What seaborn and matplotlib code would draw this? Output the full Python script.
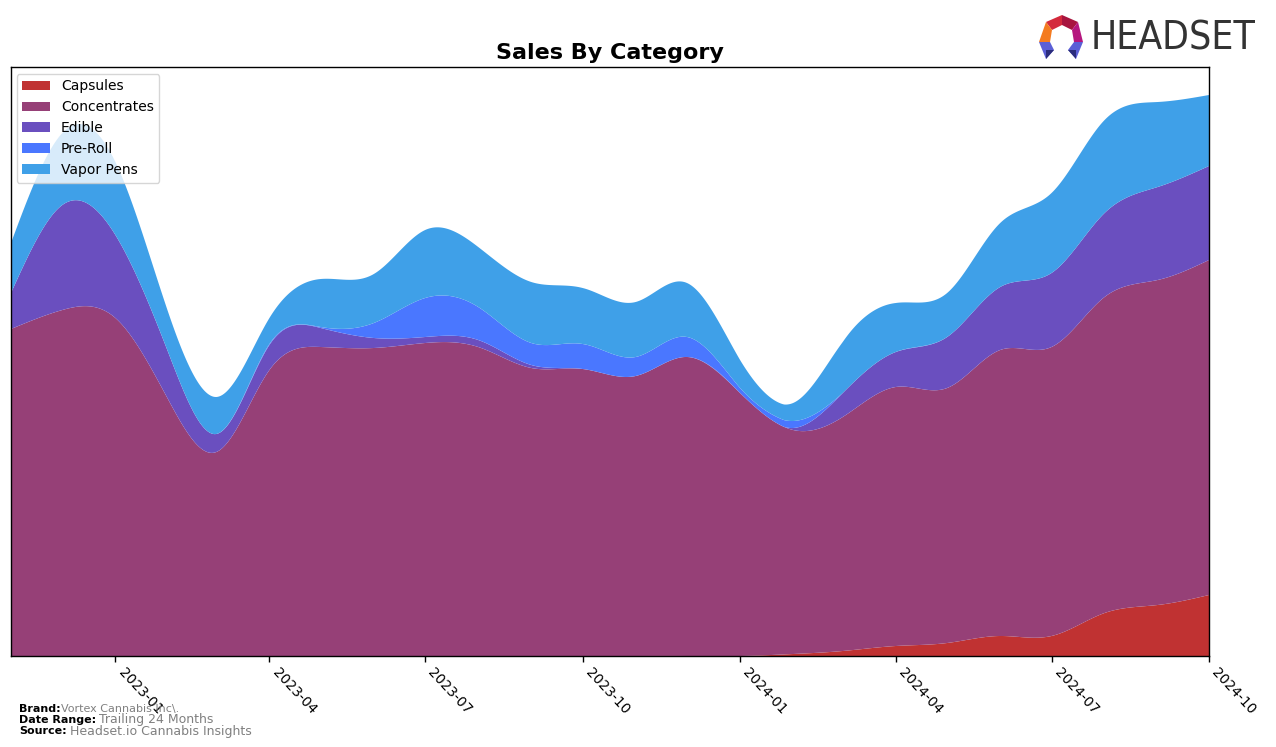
import numpy as np
import pandas as pd
import matplotlib
matplotlib.use("Agg")
import matplotlib.pyplot as plt
import matplotlib.dates as mdates
from matplotlib.patches import Polygon, Patch
import seaborn as sns

# ---- data (monthly) ----
months = pd.date_range("2022-11-01", "2024-10-01", freq="MS")
categories = ["Capsules", "Concentrates", "Edible", "Pre-Roll", "Vapor Pens"]
capsules = [0, 0, 0, 0, 0, 0, 0, 0, 0, 0, 0, 0, 0, 0, 0, 2, 5, 10, 13, 20, 20, 43, 51, 61]
concentrates = [327, 346, 338, 256, 204, 286, 309, 308, 313, 309, 288, 287, 280, 299, 263, 224,
                234, 259, 255, 286, 289, 316, 325, 335]
edible = [36, 105, 83, 47, 18, 25, 19, 10, 6, 7, 3, 0, 0, 0, 0, 2, 24, 35, 51, 63, 74, 84, 93, 94]
pre_roll = [0, 0, 0, 0, 0, 1, 1, 15, 39, 33, 22, 25, 19, 20, 5, 7, 0, 0, 0, 0, 0, 0, 0, 0]
vapor_pens = [50, 72, 73, 40, 37, 26, 48, 49, 68, 60, 61, 56, 55, 54, 28, 18, 51, 49, 44, 64, 80,
              93, 85, 71]
colors = ["#c03232", "#964077", "#6a4fbf", "#4a77ff", "#3fa0e8"]
tick_labels = ["2023-01", "2023-04", "2023-07", "2023-10", "2024-01", "2024-04", "2024-07", "2024-10"]


def natural_spline(x, y, xs):
    x = np.asarray(x, float)
    y = np.asarray(y, float)
    n = len(x)
    h = np.diff(x)
    A = np.zeros((n, n))
    r = np.zeros(n)
    A[0, 0] = 1
    A[-1, -1] = 1
    for i in range(1, n - 1):
        A[i, i - 1] = h[i - 1]
        A[i, i] = 2 * (h[i - 1] + h[i])
        A[i, i + 1] = h[i]
        r[i] = 6 * ((y[i + 1] - y[i]) / h[i] - (y[i] - y[i - 1]) / h[i - 1])
    M = np.linalg.solve(A, r)
    idx = np.clip(np.searchsorted(x, xs) - 1, 0, n - 2)
    x0, x1 = x[idx], x[idx + 1]
    hh = x1 - x0
    t0 = x1 - xs
    t1 = xs - x0
    out = (M[idx] * t0 ** 3 / (6 * hh) + M[idx + 1] * t1 ** 3 / (6 * hh)
           + (y[idx] / hh - M[idx] * hh / 6) * t0 + (y[idx + 1] / hh - M[idx + 1] * hh / 6) * t1)
    return out


sns.set_theme(style="white")
plt.rcParams["font.family"] = ["DejaVu Sans"]
plt.rcParams["text.color"] = "black"
plt.rcParams["axes.labelcolor"] = "black"
plt.rcParams["xtick.color"] = "black"
plt.rcParams["axes.titlecolor"] = "black"

fig = plt.figure(figsize=(12.76, 7.47), dpi=100)
ax = fig.add_axes([11 / 1276, 1 - 656 / 747, (1209 - 11) / 1276, (656 - 67) / 747])

xnum = mdates.date2num(months)
xs = np.linspace(xnum[0], xnum[-1], 800)
series = [capsules, concentrates, edible, pre_roll, vapor_pens]
smooth = [np.clip(natural_spline(xnum, s, xs), 0, None) for s in series]

ax.stackplot(mdates.num2date(xs), *smooth, colors=colors, labels=categories, alpha=1.0,
             linewidth=0.6, edgecolor="none")

ax.set_xlim(months[0], months[-1])
ax.set_ylim(0, 589)
ax.set_yticks([])
tick_dates = pd.to_datetime(tick_labels)
ax.set_xticks(tick_dates)
ax.set_xticklabels(tick_labels, rotation=-47, ha="left", va="top",
                   fontsize=10, color="black")
ax.tick_params(axis="x", direction="out", length=4, width=1, color="black", bottom=True, pad=3)
for sp in ax.spines.values():
    sp.set_color("black")
    sp.set_linewidth(1)

ax.set_title("Sales By Category", fontsize=16, fontweight="bold", pad=6, color="black")

handles = [Patch(facecolor=c, edgecolor="none") for c in colors]
leg = ax.legend(handles, categories, loc="upper left", fontsize=10, frameon=True, fancybox=True,
                borderpad=0.4, labelspacing=0.5, handlelength=2.0, borderaxespad=0.4,
                bbox_to_anchor=(0.0, 0.998))
leg.get_frame().set_edgecolor("#cccccc")
for t in leg.get_texts():
    t.set_color("black")

# footer text
fy = [1 - 709 / 747, 1 - 720 / 747, 1 - 731 / 747]
fig.text(19 / 1276, fy[0], "Brand:", fontsize=8, fontweight="bold", va="center")
fig.text(61 / 1276, fy[0], "Vortex Cannabis Inc\\.", fontsize=8, color="#808080", va="center")
fig.text(19 / 1276, fy[1], "Date Range:", fontsize=8, fontweight="bold", va="center")
fig.text(99 / 1276, fy[1], "Trailing 24 Months", fontsize=9, color="#808080", va="center")
fig.text(19 / 1276, fy[2], "Source:", fontsize=8, fontweight="bold", va="center")
fig.text(70 / 1276, fy[2], "Headset.io Cannabis Insights", fontsize=9, color="#808080", va="center")

# logo
def P(pts, color):
    fig.patches.append(Polygon([(px / 1276, 1 - py / 747) for px, py in pts], closed=True,
                               facecolor=color, edgecolor="none", transform=fig.transFigure))

P([(1046, 22), (1062, 15), (1062, 25), (1052, 30)], "#d42a3c")
P([(1062, 15), (1078, 22), (1072, 30), (1062, 25)], "#a8153f")
P([(1078, 22), (1083, 42), (1074, 42), (1072, 30)], "#b5177f")
P([(1046, 22), (1052, 30), (1050, 42), (1039, 42)], "#f47b20")
P([(1039, 42), (1050, 42), (1054, 50), (1046, 59)], "#5b5fd6")
P([(1083, 42), (1074, 42), (1068, 50), (1076, 59)], "#5b5fd6")
P([(1046, 59), (1054, 50), (1046, 50)], "#2b2d7c")
P([(1076, 59), (1068, 50), (1076, 50)], "#2b2d7c")
fig.text(1091 / 1276, 1 - 38 / 747, "HEADSET", fontsize=28, color="#333333", va="center", ha="left",
         family="DejaVu Sans", fontstretch="condensed")

fig.savefig("out.png", dpi=100)
